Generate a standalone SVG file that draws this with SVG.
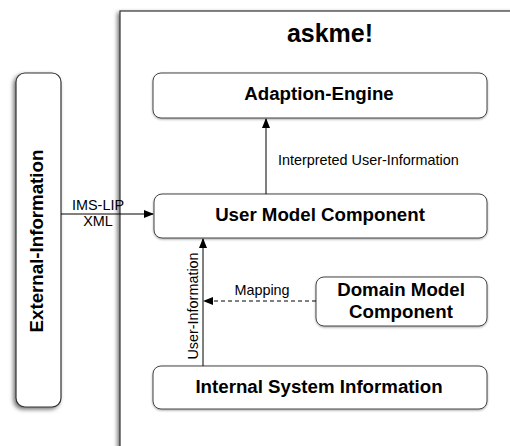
<svg xmlns="http://www.w3.org/2000/svg" width="510" height="446" viewBox="0 0 510 446">
<style>
.box{fill:#fff;stroke:#333;stroke-width:1.2}
.inner{fill:#fff;stroke:#444;stroke-width:1}
.t{font-family:"Liberation Sans",Arial,sans-serif;fill:#000}
.b{font-weight:bold;font-size:18.7px}
.r{font-size:14.4px}
.c{stroke:#000;stroke-width:1;fill:none}
</style>
<defs>
<filter id="sh" x="-30%" y="-30%" width="160%" height="160%">
<feDropShadow dx="-2" dy="2" stdDeviation="2" flood-color="#000" flood-opacity="0.55"/>
</filter>
<filter id="sh2" x="-10%" y="-10%" width="120%" height="130%">
<feDropShadow dx="0" dy="1" stdDeviation="0.8" flood-color="#000" flood-opacity="0.35"/>
</filter>
<marker id="ah" markerWidth="10" markerHeight="8" refX="9" refY="4" orient="auto" markerUnits="userSpaceOnUse">
<path d="M0,0 L10,4 L0,8 Z" fill="#000"/>
</marker>
</defs>
<g id="askme">
<rect x="120" y="11" width="420" height="460" class="box" filter="url(#sh)"/>
<text x="330" y="42" text-anchor="middle" class="t" font-weight="bold" font-size="25">askme!</text>
</g>
<g id="external">
<rect x="16" y="73" width="45" height="334" rx="9" class="box" filter="url(#sh)"/>
<text transform="translate(43,241) rotate(-90)" text-anchor="middle" class="t b">External-Information</text>
</g>
<g id="adaption">
<rect x="153" y="73" width="334" height="45" rx="8" class="inner" filter="url(#sh2)"/>
<text x="319" y="100" text-anchor="middle" class="t b">Adaption-Engine</text>
</g>
<g id="usermodel">
<rect x="154" y="194" width="333" height="44" rx="8" class="inner" filter="url(#sh2)"/>
<text x="320" y="221" text-anchor="middle" class="t b">User Model Component</text>
</g>
<g id="domain">
<rect x="316" y="277" width="171" height="49" rx="8" class="inner" filter="url(#sh2)"/>
<text x="401" y="296" text-anchor="middle" class="t b">Domain Model</text>
<text x="401" y="318" text-anchor="middle" class="t b">Component</text>
</g>
<g id="internal">
<rect x="153" y="366" width="334" height="43" rx="8" class="inner" filter="url(#sh2)"/>
<text x="319" y="393" text-anchor="middle" class="t b">Internal System Information</text>
</g>
<g id="connectors">
<line x1="266" y1="194" x2="266" y2="119" class="c" marker-end="url(#ah)"/>
<text x="278" y="165" class="t r">Interpreted User-Information</text>
<line x1="61" y1="214" x2="153" y2="214" class="c" marker-end="url(#ah)"/>
<text x="98" y="210" text-anchor="middle" class="t r">IMS-LIP</text>
<text x="98" y="226" text-anchor="middle" class="t r">XML</text>
<line x1="203" y1="366" x2="203" y2="239" class="c" marker-end="url(#ah)"/>
<text transform="translate(198,306) rotate(-90)" text-anchor="middle" class="t r">User-Information</text>
<line x1="316" y1="301" x2="204" y2="301" class="c" stroke-dasharray="4,3" marker-end="url(#ah)"/>
<text x="262" y="295" text-anchor="middle" class="t r">Mapping</text>
</g>
</svg>
